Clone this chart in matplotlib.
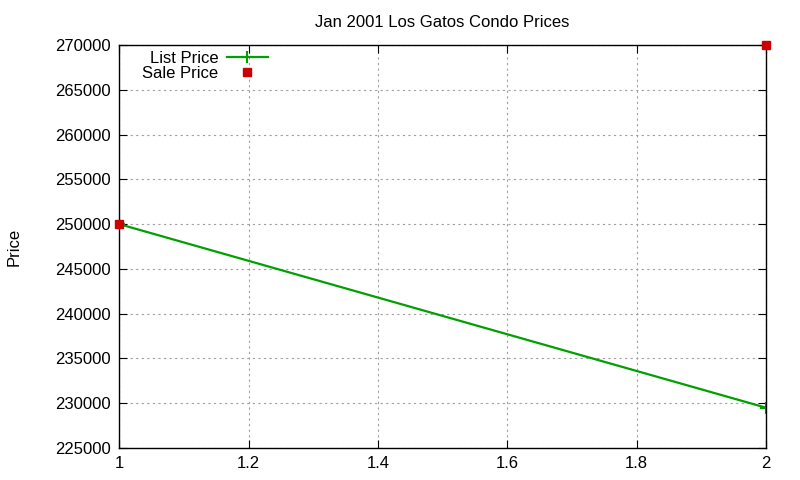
import matplotlib
matplotlib.use('Agg')
import matplotlib.pyplot as plt

x_list = [1, 2]
list_price = [250000, 229500]
x_sale = [1, 2]
sale_price = [250000, 270000]

plt.rcParams['font.family'] = ['Liberation Sans', 'DejaVu Sans']
plt.rcParams['font.size'] = 12

fig = plt.figure(figsize=(8, 4.8), dpi=100)
ax = fig.add_axes([0.149, 0.0667, 0.8085, 0.8395])

ax.plot(x_list, list_price, color='#00a000', lw=1.6, marker='+', ms=9, mew=1.5, label='List Price')
ax.plot(x_sale, sale_price, ls='none', color='#cc0000', marker='s', ms=6, label='Sale Price', clip_on=False, zorder=5)

ax.set_xlim(1, 2)
ax.set_ylim(225000, 270000)
ax.set_xticks([1, 1.2, 1.4, 1.6, 1.8, 2])
ax.set_xticklabels(['1', '1.2', '1.4', '1.6', '1.8', '2'])
ax.set_yticks(range(225000, 270001, 5000))
ax.grid(True, color='#a0a0a0', ls=(0, (2, 3)), lw=0.8)
ax.tick_params(direction='in', top=True, right=True, length=6, labelsize=12, pad=6)
for s in ax.spines.values():
    s.set_linewidth(1.0)

ax.set_title('Jan 2001 Los Gatos Condo Prices', fontsize=12, pad=13)
ax.set_ylabel('Price', fontsize=12, labelpad=24)

leg = ax.legend(loc='upper right', bbox_to_anchor=(0.232, 0.99), frameon=False, markerfirst=False,
                handlelength=2.45, borderaxespad=0.0, borderpad=0.1, labelspacing=0.0,
                handletextpad=0.5, fontsize=12)
for t in leg.get_texts():
    t.set_ha('right')
leg._legend_box.align = 'right'

fig.savefig('out.png', dpi=100)
